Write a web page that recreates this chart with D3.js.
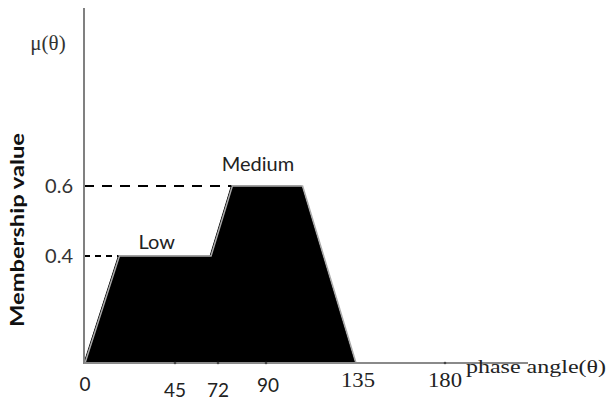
<!DOCTYPE html>
<html><head><meta charset="utf-8">
<script src="https://cdn.jsdelivr.net/npm/d3@7"></script>
<style>body{margin:0;background:#fff}svg{display:block}</style>
</head><body>
<svg id="c" width="608" height="400"></svg>
<script>
// data
const xTicks = [0, 45, 72, 90, 135, 180];
const xTickLabels = ["0", "45", "72", "90", "135", "180"];
const yTicks = [0.4, 0.6];
const yTickLabels = ["0.4", "0.6"];
const shapeX = [0, 17, 67, 77, 108, 135];
const shapeY = [0, 0.4, 0.4, 0.6, 0.6, 0];
const setNames = ["Low", "Medium"];
const setLabelAt = [[36, 0.4], [87, 0.6]];

const svg = d3.select("#c");
const x = d3.scaleLinear().domain(xTicks).range([84, 175, 218, 266, 355, 445]);
const y = d3.scaleLinear().domain([0, 0.4, 0.6]).range([363, 256, 186]);

const pts = shapeX.map((d, i) => [x(d), y(shapeY[i])]);
svg.append("path")
  .attr("d", d3.line()(pts) + "Z")
  .attr("fill", "#000")
  .attr("stroke", "#000").attr("stroke-width", 1);
svg.append("path")
  .attr("d", d3.line()(pts))
  .attr("fill", "none").attr("stroke", "#aaa").attr("stroke-width", 1.5)
  .attr("transform", "translate(1,0)");

// dashed reference lines
svg.append("line").attr("x1", 84).attr("x2", x(shapeX[3])).attr("y1", y(0.6)).attr("y2", y(0.6))
  .attr("stroke", "#000").attr("stroke-width", 2).attr("stroke-dasharray", "10,8");
svg.append("line").attr("x1", 84).attr("x2", x(shapeX[1])).attr("y1", y(0.4)).attr("y2", y(0.4))
  .attr("stroke", "#000").attr("stroke-width", 2).attr("stroke-dasharray", "6,5");

// axes
svg.append("line").attr("x1", 84).attr("x2", 84).attr("y1", 8).attr("y2", 364)
  .attr("stroke", "#808080").attr("stroke-width", 2);
svg.append("line").attr("x1", 84).attr("x2", 528).attr("y1", 363).attr("y2", 363)
  .attr("stroke", "#8a8a8a").attr("stroke-width", 2);

// x ticks
const xLabY = [391, 397, 397, 392, 387, 387];
const serif = i => i >= 4;
svg.selectAll("text.xt").data(xTicks).join("text")
  .attr("class", "xt")
  .attr("x", d => x(d) + (d === 0 ? 1 : d === 90 ? 2 : d === 135 ? 3 : 0))
  .attr("y", (d, i) => xLabY[i])
  .attr("text-anchor", "middle")
  .attr("font-family", (d, i) => serif(i) ? "Liberation Serif, serif" : "Lato, sans-serif")
  .attr("font-size", (d, i) => serif(i) ? 20 : 19)
  .attr("fill", "#222")
  .attr("textLength", (d, i) => serif(i) ? 34 : null)
  .attr("lengthAdjust", "spacingAndGlyphs")
  .text((d, i) => xTickLabels[i]);
svg.selectAll("circle.xm").data([45, 72, 90, 180]).join("circle")
  .attr("class", "xm").attr("cx", d => x(d)).attr("cy", 363).attr("r", 1.3).attr("fill", "#444");

// y ticks
svg.selectAll("text.yt").data(yTicks).join("text")
  .attr("class", "yt")
  .attr("x", 73).attr("y", d => y(d) + 7)
  .attr("text-anchor", "end")
  .attr("font-family", "Lato, sans-serif").attr("font-size", 20)
  .attr("fill", "#333")
  .text((d, i) => yTickLabels[i]);

// set labels
svg.selectAll("text.sl").data(setNames).join("text")
  .attr("class", "sl")
  .attr("x", (d, i) => x(setLabelAt[i][0]))
  .attr("y", (d, i) => y(setLabelAt[i][1]) - (i === 0 ? 7 : 15))
  .attr("text-anchor", "middle")
  .attr("font-family", "Lato, sans-serif").attr("font-size", 20)
  .attr("fill", "#222")
  .text(d => d);

// axis titles
svg.append("text").attr("transform", "translate(24,230) rotate(-90)")
  .attr("text-anchor", "middle").attr("font-family", "Lato, sans-serif")
  .attr("font-weight", "bold").attr("font-size", 18).attr("fill", "#111")
  .attr("textLength", 194).attr("lengthAdjust", "spacingAndGlyphs")
  .text("Membership value");
svg.append("text").attr("x", 48).attr("y", 50).attr("text-anchor", "middle")
  .attr("font-family", "Liberation Serif, serif").attr("font-size", 21).attr("fill", "#333")
  .text("μ(θ)");
svg.append("text").attr("x", 466).attr("y", 373)
  .attr("font-family", "Liberation Serif, serif").attr("font-size", 19)
  .attr("fill", "#222").attr("textLength", 140).attr("lengthAdjust", "spacingAndGlyphs")
  .text("phase angle(θ)");
</script>
</body></html>
